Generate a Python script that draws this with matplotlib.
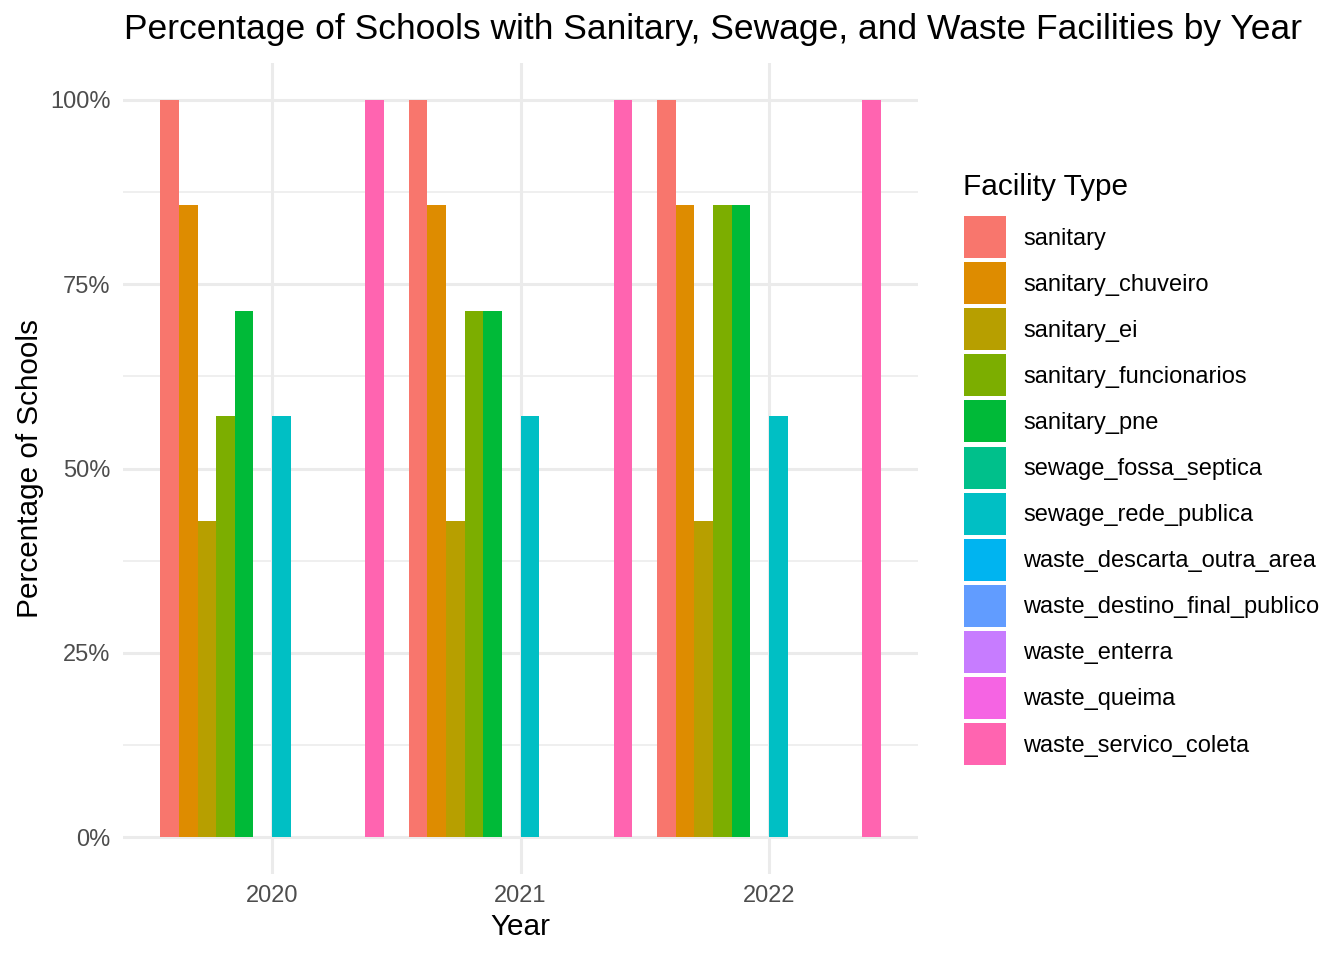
import matplotlib
matplotlib.use('Agg')
import matplotlib.pyplot as plt
from matplotlib.patches import Rectangle
import numpy as np

plt.rcParams['font.family'] = ['Liberation Sans', 'DejaVu Sans']

years = ['2020', '2021', '2022']
facility_types = [
    'sanitary', 'sanitary_chuveiro', 'sanitary_ei', 'sanitary_funcionarios',
    'sanitary_pne', 'sewage_fossa_septica', 'sewage_rede_publica',
    'waste_descarta_outra_area', 'waste_destino_final_publico',
    'waste_enterra', 'waste_queima', 'waste_servico_coleta',
]
# percentage of schools, one list per facility type (2020, 2021, 2022)
pct_sanitary = [1.0, 1.0, 1.0]
pct_chuveiro = [0.857, 0.857, 0.857]
pct_ei = [0.429, 0.429, 0.429]
pct_funcionarios = [0.571, 0.714, 0.857]
pct_pne = [0.714, 0.714, 0.857]
pct_fossa = [0.0, 0.0, 0.0]
pct_rede = [0.571, 0.571, 0.571]
pct_descarta = [0.0, 0.0, 0.0]
pct_destino = [0.0, 0.0, 0.0]
pct_enterra = [0.0, 0.0, 0.0]
pct_queima = [0.0, 0.0, 0.0]
pct_coleta = [1.0, 1.0, 1.0]
values = [pct_sanitary, pct_chuveiro, pct_ei, pct_funcionarios, pct_pne, pct_fossa,
          pct_rede, pct_descarta, pct_destino, pct_enterra, pct_queima, pct_coleta]

# ggplot2 default hue palette for 12 levels
colors = ['#F8766D', '#DE8C00', '#B79F00', '#7CAE00', '#00BA38', '#00C08B',
          '#00BFC4', '#00B4F0', '#619CFF', '#C77CFF', '#F564E3', '#FF64B0']

W, H = 1344, 960
fig = plt.figure(figsize=(W / 200, H / 200), dpi=200)


def fx(px):
    return px / W


def fy(py):
    return 1 - py / H


ax = fig.add_axes([fx(123), fy(874), fx(918) - fx(123), fy(63) - fy(874)])

n = len(facility_types)
width = 0.9 / n
x = np.arange(1, len(years) + 1)
for i, (name, vals) in enumerate(zip(facility_types, values)):
    offs = -0.45 + width * (i + 0.5)
    ax.bar(x + offs, vals, width=width, color=colors[i], linewidth=0, zorder=3)

ax.set_xlim(0.4, 3.6)
ax.set_ylim(-0.05, 1.05)
ax.set_xticks(x)
ax.set_xticklabels(years)
ax.set_yticks([0, 0.25, 0.5, 0.75, 1.0])
ax.set_yticklabels(['0%', '25%', '50%', '75%', '100%'])
ax.set_yticks([0.125, 0.375, 0.625, 0.875], minor=True)

for s in ax.spines.values():
    s.set_visible(False)
ax.grid(True, which='major', color='#EBEBEB', linewidth=1.1, zorder=0)
ax.grid(True, which='minor', axis='y', color='#EBEBEB', linewidth=0.55, zorder=0)
ax.tick_params(which='both', length=0)
ax.tick_params(axis='x', labelsize=8.5, labelcolor='#4D4D4D', pad=4)
ax.tick_params(axis='y', labelsize=8.5, labelcolor='#4D4D4D', pad=4.5)

ax.set_xlabel('Year', fontsize=10.7, labelpad=2)
ax.set_ylabel('Percentage of Schools', fontsize=10.7, labelpad=2)

fig.text(fx(124), fy(30), 'Percentage of Schools with Sanitary, Sewage, and Waste Facilities by Year',
         fontsize=12.75, ha='left', va='center')

# legend drawn by hand, ggplot style
fig.text(fx(963), fy(187), 'Facility Type', fontsize=10.7, ha='left', va='center')
for i, name in enumerate(facility_types):
    cy = 237 + 46.1 * i
    fig.add_artist(Rectangle((fx(964), fy(cy + 21)), fx(42), 42 / H,
                             transform=fig.transFigure, color=colors[i], linewidth=0))
    fig.text(fx(1023), fy(cy + 1.5), name, fontsize=8.5, ha='left', va='center')

fig.savefig('out.png', dpi=200, facecolor='white')
